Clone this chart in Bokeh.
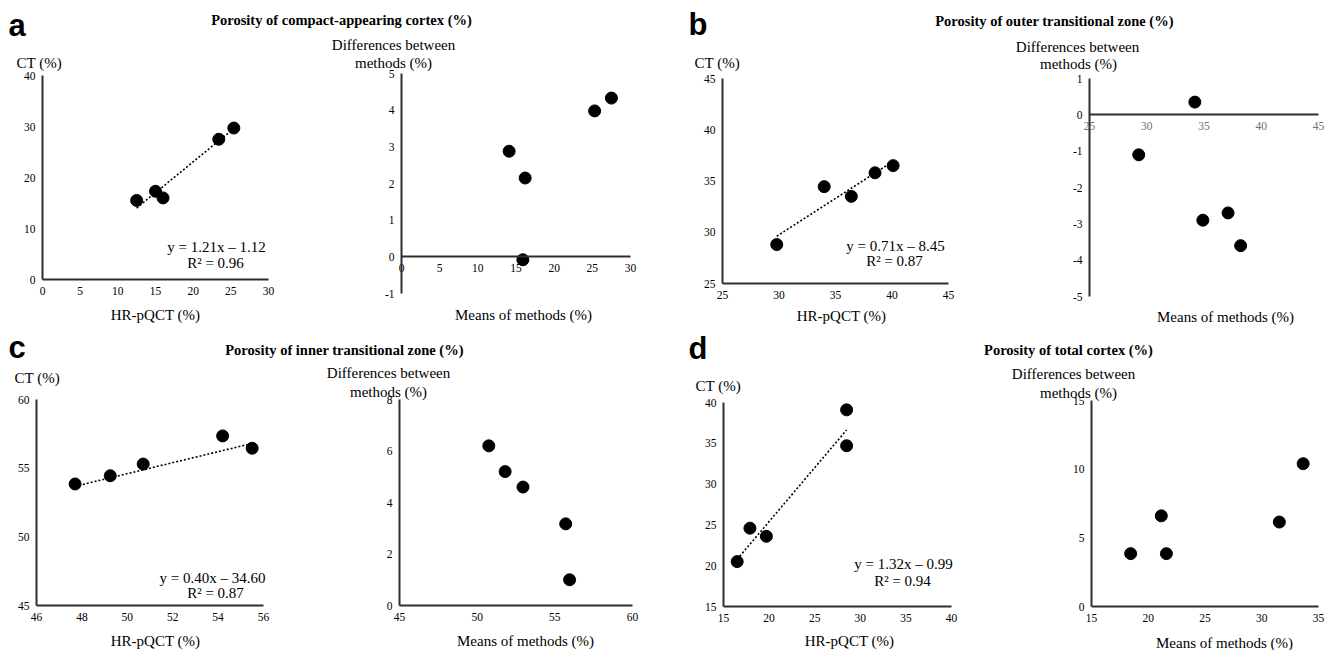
from bokeh.plotting import figure
from bokeh.models import Range1d, FixedTicker, Label, LinearAxis
from bokeh.embed import file_html
from bokeh.resources import INLINE

# ---------------- data ----------------
PANEL_LETTERS = ["a", "b", "c", "d"]
PANEL_TITLES = [
    "Porosity of compact-appearing cortex (%)",
    "Porosity of outer transitional zone (%)",
    "Porosity of inner transitional zone (%)",
    "Porosity of total cortex (%)",
]
X_LABEL_SCATTER = "HR-pQCT (%)"
Y_LABEL_SCATTER = "CT (%)"
X_LABEL_BA = "Means of methods (%)"
Y_LABEL_BA = ["Differences between", "methods (%)"]

# panel a
A_HR = [12.5, 15.0, 16.0, 23.4, 25.4]
A_CT = [15.5, 17.3, 16.0, 27.5, 29.7]
A_MEAN = [14.1, 16.2, 15.9, 25.3, 27.5]
A_DIFF = [2.88, 2.15, -0.08, 3.98, 4.33]
# panel b
B_HR = [29.8, 34.0, 36.4, 38.5, 40.1]
B_CT = [28.8, 34.45, 33.5, 35.8, 36.5]
B_MEAN = [29.3, 34.2, 34.9, 37.1, 38.2]
B_DIFF = [-1.1, 0.35, -2.9, -2.7, -3.6]
# panel c
C_HR = [47.7, 49.25, 50.7, 54.2, 55.5]
C_CT = [53.85, 54.45, 55.3, 57.35, 56.45]
C_MEAN = [50.75, 51.8, 52.95, 55.7, 55.95]
C_DIFF = [6.2, 5.2, 4.6, 3.17, 1.0]
# panel d
D_HR = [16.5, 17.9, 19.7, 28.5, 28.5]
D_CT = [20.5, 24.6, 23.6, 39.1, 34.7]
D_MEAN = [18.45, 21.15, 21.6, 31.55, 33.65]
D_DIFF = [3.85, 6.6, 3.85, 6.15, 10.4]

TREND_SLOPE = [1.21, 0.71, 0.40, 1.32]
TREND_INTERCEPT = [-1.12, 8.45, 34.60, -0.99]
EQ_TEXT = ["y = 1.21x \u2013 1.12", "y = 0.71x \u2013 8.45",
           "y = 0.40x \u2013 34.60", "y = 1.32x \u2013 0.99"]
R2_TEXT = ["R\u00b2 = 0.96", "R\u00b2 = 0.87", "R\u00b2 = 0.87", "R\u00b2 = 0.94"]

# axis ranges and ticks
SA_XR, SA_YR = (0, 30), (0, 40)
SA_XT, SA_YT = [0, 5, 10, 15, 20, 25, 30], [0, 10, 20, 30, 40]
BA_A_XR, BA_A_YR = (0, 30), (-1, 5)
BA_A_XT, BA_A_YT = [0, 5, 10, 15, 20, 25, 30], [-1, 0, 1, 2, 3, 4, 5]
SB_XR, SB_YR = (25, 45), (25, 45)
SB_XT, SB_YT = [25, 30, 35, 40, 45], [25, 30, 35, 40, 45]
BA_B_XR, BA_B_YR = (25, 45), (-5, 1)
BA_B_XT, BA_B_YT = [25, 30, 35, 40, 45], [-5, -4, -3, -2, -1, 0, 1]
SC_XR, SC_YR = (46, 56), (45, 60)
SC_XT, SC_YT = [46, 48, 50, 52, 54, 56], [45, 50, 55, 60]
BA_C_XR, BA_C_YR = (45, 60), (0, 8)
BA_C_XT, BA_C_YT = [45, 50, 55, 60], [0, 2, 4, 6, 8]
SD_XR, SD_YR = (15, 40), (15, 40)
SD_XT, SD_YT = [15, 20, 25, 30, 35, 40], [15, 20, 25, 30, 35, 40]
BA_D_XR, BA_D_YR = (15, 35), (0, 15)
BA_D_XT, BA_D_YT = [15, 20, 25, 30, 35], [0, 5, 10, 15]

# ---------------- layout (pixels) ----------------
W, H = 1338, 650
SERIF = "Liberation Serif"
SANS = "Liberation Sans"
AX_COLOR = "#2e2e2e"

# panel axis rectangles in page pixels: (left, top, right, bottom)
PANELS = [
    # name, frame, xr, yr, xs, ys, xticks, yticks, x-axis crossing, x tick colour
    ("sa", (42, 75, 268, 279), SA_XR, SA_YR, A_HR, A_CT, SA_XT, SA_YT, None, "#000000"),
    ("ba", (401, 73, 630, 293), BA_A_XR, BA_A_YR, A_MEAN, A_DIFF, BA_A_XT, BA_A_YT, 0, "#000000"),
    ("sb", (722, 78, 948, 283), SB_XR, SB_YR, B_HR, B_CT, SB_XT, SB_YT, None, "#000000"),
    ("bb", (1089, 78, 1318, 296), BA_B_XR, BA_B_YR, B_MEAN, B_DIFF, BA_B_XT, BA_B_YT, 0, "#707070"),
    ("sc", (36, 399, 263, 605), SC_XR, SC_YR, C_HR, C_CT, SC_XT, SC_YT, None, "#000000"),
    ("bc", (399, 399, 632, 605), BA_C_XR, BA_C_YR, C_MEAN, C_DIFF, BA_C_XT, BA_C_YT, None, "#000000"),
    ("sd", (723, 402, 951, 606), SD_XR, SD_YR, D_HR, D_CT, SD_XT, SD_YT, None, "#000000"),
    ("bd", (1091, 400, 1318, 606), BA_D_XR, BA_D_YR, D_MEAN, D_DIFF, BA_D_XT, BA_D_YT, None, "#000000"),
]
TREND_PANELS = {"sa": 0, "sb": 1, "sc": 2, "sd": 3}

p = figure(width=W, height=H, x_range=Range1d(0, W), y_range=Range1d(H, 0),
           x_axis_type=None, y_axis_type=None, title=None,
           output_backend="svg", toolbar_location=None, min_border=0)
p.outline_line_color = None
p.background_fill_color = "white"
p.border_fill_color = "white"

# named ranges for each panel so that its axis rectangle lands at the frame box
ex_x, ex_y = {}, {}
for name, (L, T, R, B), xr, yr, *_ in PANELS:
    sx = (xr[1] - xr[0]) / (R - L)
    sy = (yr[1] - yr[0]) / (B - T)
    ex_x[name] = Range1d(xr[0] - L * sx, xr[0] + (W - L) * sx)
    ex_y[name] = Range1d(yr[0] - (H - B) * sy, yr[0] + B * sy)
p.extra_x_ranges = ex_x
p.extra_y_ranges = ex_y


def style_axis(ax, ticks, label_color):
    ax.ticker = FixedTicker(ticks=ticks)
    ax.major_label_overrides = {t: str(t) for t in ticks}
    ax.axis_line_width = 2
    ax.axis_line_color = AX_COLOR
    ax.major_tick_line_color = None
    ax.minor_tick_line_color = None
    ax.major_tick_out = 0
    ax.major_tick_in = 0
    ax.major_label_text_font = SERIF
    ax.major_label_text_font_size = "11.5px"
    ax.major_label_text_color = label_color
    ax.major_label_standoff = 7


for name, frame, xr, yr, xs, ys, xt, yt, xcross, xcol in PANELS:
    xa = LinearAxis(x_range_name=name, y_range_name=name,
                    fixed_location=(yr[0] if xcross is None else xcross),
                    bounds=xr)
    style_axis(xa, xt, xcol)
    p.add_layout(xa, "below")
    ya = LinearAxis(x_range_name=name, y_range_name=name,
                    fixed_location=xr[0], bounds=yr)
    style_axis(ya, yt, "#000000")
    p.add_layout(ya, "left")
    p.scatter(xs, ys, size=12, color="black", x_range_name=name, y_range_name=name)
    if name in TREND_PANELS:
        i = TREND_PANELS[name]
        x_end = [min(xs), max(xs)]
        y_end = [TREND_SLOPE[i] * v + TREND_INTERCEPT[i] for v in x_end]
        p.line(x_end, y_end, line_color="black", line_width=1.6, line_dash="2 2",
               x_range_name=name, y_range_name=name)


def text(x, y, s, size="15px", align="center", baseline="middle",
         bold=False, font=SERIF):
    p.add_layout(Label(x=x, y=y, text=s, text_font=font, text_font_size=size,
                       text_align=align, text_baseline=baseline,
                       text_color="black",
                       text_font_style="bold" if bold else "normal"))


# panel letters and titles
for s, (x, y) in zip(PANEL_LETTERS, [(8, 25), (688, 24), (8, 347), (688, 348)]):
    text(x, y, s, size="31px", align="left", bold=True, font=SANS)
for s, (x, y) in zip(PANEL_TITLES, [(341, 19), (1054, 20), (344, 349), (1068, 349)]):
    text(x, y, s, size="14.5px", bold=True)

# scatter-panel texts
for i, (ct, hr, eq, r2) in enumerate([
        ((16, 62), (155, 314), (216, 246), (215, 262)),
        ((694, 62), (841, 315), (895, 245), (894, 260)),
        ((14, 377), (155, 640), (212, 577), (215, 592)),
        ((695, 385), (849, 640), (903, 563), (902, 580))]):
    text(ct[0], ct[1], Y_LABEL_SCATTER, align="left")
    text(hr[0], hr[1], X_LABEL_SCATTER)
    text(eq[0], eq[1], EQ_TEXT[i])
    text(r2[0], r2[1], R2_TEXT[i])

# Bland-Altman-panel texts
for d1, d2, m in [((393, 44), (393, 62), (523, 314)),
                  ((1077, 46), (1078, 63), (1225, 316)),
                  ((388, 372), (388, 391), (525, 640)),
                  ((1073, 373), (1078, 392), (1224, 642))]:
    text(d1[0], d1[1], Y_LABEL_BA[0])
    text(d2[0], d2[1], Y_LABEL_BA[1])
    text(m[0], m[1], X_LABEL_BA)

open("out.html", "w").write(file_html(p, INLINE))
